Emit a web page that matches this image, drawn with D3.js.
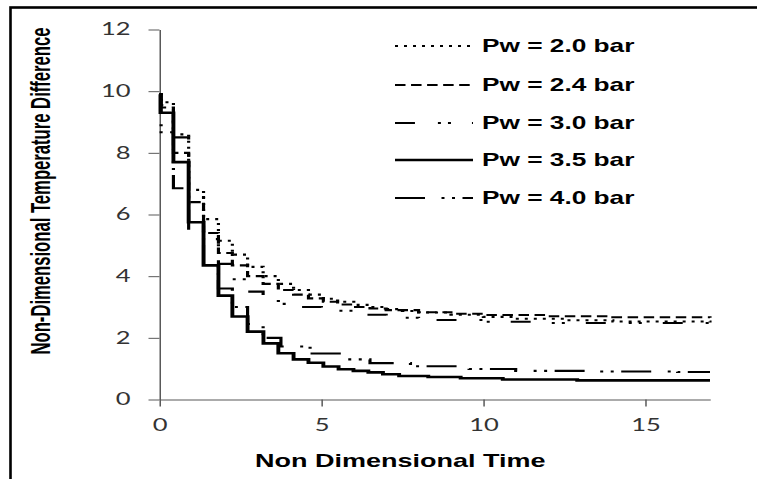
<!DOCTYPE html>
<html><head><meta charset="utf-8">
<script src="https://cdn.jsdelivr.net/npm/d3@7"></script>
<style>body{margin:0;background:#fff}</style>
</head><body><svg id="c" width="757" height="479"></svg>
<script>
// ---------- data ----------
const xTicks = [0, 5, 10, 15];
const yTicks = [0, 2, 4, 6, 8, 10, 12];
const seriesNames = ["Pw = 2.0 bar", "Pw = 2.4 bar", "Pw = 3.0 bar", "Pw = 3.5 bar", "Pw = 4.0 bar"];

const t20 = [0, 0.06, 0.43, 0.9, 1.36, 1.82, 2.25, 2.72, 3.2, 3.67, 4.14, 4.6, 5.06, 5.5, 6.0, 6.5, 7.0, 7.5, 8.0, 9.0, 10.0, 11.0, 12.5, 14.0, 17];
const v20 = [9.9, 9.64, 8.6, 6.8, 5.85, 5.15, 4.7, 4.3, 4.0, 3.75, 3.55, 3.4, 3.27, 3.17, 3.07, 3.0, 2.93, 2.87, 2.82, 2.75, 2.68, 2.62, 2.57, 2.53, 2.5];

const t24 = [0, 0.04, 0.43, 0.9, 1.36, 1.82, 2.25, 2.72, 3.2, 3.67, 4.14, 4.6, 5.06, 5.5, 6.0, 6.5, 7.0, 8.0, 9.0, 10.0, 12.0, 14.0, 17];
const v24 = [9.9, 9.47, 8.0, 6.4, 5.4, 4.75, 4.35, 4.0, 3.75, 3.55, 3.4, 3.28, 3.17, 3.08, 3.0, 2.95, 2.9, 2.83, 2.78, 2.74, 2.7, 2.67, 2.65];

const t30 = [0, 0.05, 0.43, 0.9, 1.36, 1.82, 2.25, 2.72, 3.2, 3.67, 4.14, 5.0, 6.0, 7.0, 8.0, 10.0, 12.0, 17];
const v30 = [9.9, 9.55, 8.5, 6.6, 5.2, 4.4, 3.9, 3.5, 3.25, 3.1, 3.0, 2.88, 2.75, 2.65, 2.58, 2.52, 2.48, 2.45];

const t35 = [0, 0.03, 0.43, 0.9, 1.36, 1.82, 2.25, 2.72, 3.21, 3.67, 4.14, 4.6, 5.06, 5.53, 5.99, 6.45, 6.9, 7.4, 8.3, 9.3, 10.6, 12.9, 17];
const v35 = [9.9, 9.3, 7.7, 5.75, 4.35, 3.37, 2.69, 2.2, 1.82, 1.5, 1.3, 1.19, 1.07, 0.98, 0.93, 0.88, 0.82, 0.76, 0.73, 0.69, 0.65, 0.62, 0.62];

const t40 = [0, 0.05, 0.43, 0.9, 1.36, 1.82, 2.25, 2.72, 3.2, 3.75, 4.65, 5.55, 6.5, 7.75, 9.56, 11.0, 13.6, 16.0, 17];
const v40 = [9.9, 8.67, 6.85, 5.5, 4.4, 3.6, 3.0, 2.45, 2.0, 1.72, 1.49, 1.3, 1.18, 1.08, 0.99, 0.93, 0.91, 0.89, 0.89];

// ---------- layout ----------
const SX = 1.5;               // horizontal stretch of the reference picture
const W = 757, H = 479;
const svg = d3.select("#c");
svg.append("rect").attr("width", W).attr("height", H).attr("fill", "#fff");

// outer frame (left and top edges visible)
svg.append("rect").attr("x", 10.5).attr("y", 7.5).attr("width", 800).attr("height", 600)
  .attr("fill", "none").attr("stroke", "#000").attr("stroke-width", 2.6);

const root = svg.append("g").attr("transform", `scale(${SX},1)`);

const x = d3.scaleLinear().domain([0, 17]).range([159.5 / SX, 710 / SX]);
const y = d3.scaleLinear().domain([0, 12]).range([399.5, 29.5]);

// axes
const axisColor = "#595959";
const yAxis = root.append("g").attr("transform", `translate(${x(0)},0)`)
  .call(d3.axisLeft(y).tickValues(yTicks).tickSize(11 / SX).tickSizeOuter(0).tickPadding(12));
const xAxis = root.append("g").attr("transform", `translate(0,${y(0)})`)
  .call(d3.axisBottom(x).tickValues(xTicks).tickSize(7).tickSizeOuter(0).tickPadding(12));
[yAxis, xAxis].forEach(a => {
  a.select(".domain").attr("stroke", axisColor).attr("stroke-width", 1);
  a.selectAll(".tick line").attr("stroke", axisColor).attr("stroke-width", 1);
  a.selectAll(".tick text").attr("font-family", "Lato, 'Open Sans', sans-serif")
    .attr("font-size", 17).attr("fill", "#333");
});

// axis titles
root.append("text").attr("x", 255 / SX).attr("y", 467)
  .attr("text-anchor", "start").attr("font-family", "'Liberation Sans', Arial, sans-serif")
  .attr("font-weight", "bold").attr("font-size", 18).attr("fill", "#000")
  .text("Non Dimensional Time");

root.append("text").attr("transform", `translate(${50 / SX},191) rotate(-90)`)
  .attr("text-anchor", "middle").attr("font-family", "'Liberation Sans', Arial, sans-serif")
  .attr("font-weight", "bold").attr("font-size", 18).attr("fill", "#000")
  .attr("textLength", 327).attr("lengthAdjust", "spacingAndGlyphs")
  .text("Non-Dimensional Temperature Difference");

// series
const styles = [
  {dash: "2,4", w: 2.1},
  {dash: "7,3.7", w: 2.1},
  {dash: "13.3,15.3,2,4.7,2,14", w: 2.1},
  {dash: null, w: 2.6},
  {dash: "20,11,2,5,2,5", w: 2.1}
];
const seriesT = [t20, t24, t30, t35, t40];
const seriesV = [v20, v24, v30, v35, v40];
const line = d3.line().x(d => x(d[0])).y(d => y(d[1])).curve(d3.curveStepAfter);

const plot = root.append("g");
seriesT.forEach((ts, i) => {
  const pts = ts.map((t, j) => [t, seriesV[i][j]]);
  plot.append("path").datum(pts).attr("d", line)
    .attr("fill", "none").attr("stroke", "#000")
    .attr("stroke-width", styles[i].w)
    .attr("stroke-dasharray", styles[i].dash);
});

// legend
const legY = [46, 85, 123, 160, 198];
const leg = root.append("g");
seriesNames.forEach((name, i) => {
  leg.append("line").attr("x1", 395 / SX).attr("x2", 473 / SX)
    .attr("y1", legY[i]).attr("y2", legY[i])
    .attr("stroke", "#000").attr("stroke-width", styles[i].w)
    .attr("stroke-dasharray", styles[i].dash);
  leg.append("text").attr("x", 482 / SX).attr("y", legY[i] + 6)
    .attr("font-family", "'Liberation Sans', Arial, sans-serif")
    .attr("font-weight", "bold").attr("font-size", 17.5).attr("fill", "#000")
    .text(name);
});
</script>
</body></html>
